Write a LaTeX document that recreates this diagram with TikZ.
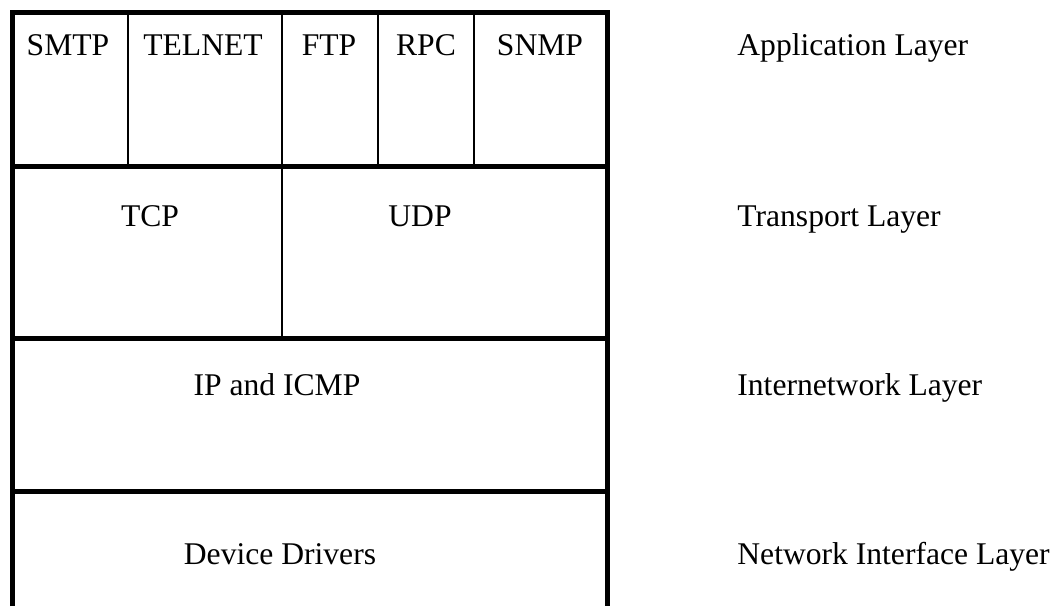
\documentclass[tikz,border=0pt]{standalone}
\usepackage{fontspec}
\setmainfont{Liberation Serif}
\tikzset{
  frame/.style={line width=2.5pt},
  divider/.style={line width=1.3pt},
  proto/.style={anchor=base,inner sep=0pt,font=\fontsize{15.8}{18}\selectfont},
  layername/.style={anchor=base west,inner sep=0pt,font=\fontsize{15.8}{18}\selectfont}
}

\begin{document}
\begin{tikzpicture}[x=0.5pt,y=-0.5pt]
  \useasboundingbox (0,0) rectangle (1058,606);
  \def\L{12.5}
  \def\R{607}
  \def\T{12.5}
  \def\B{606}

  % outer frame, open at the bottom
  \draw[frame] (\L,\B) -- (\L,\T) -- (\R,\T) -- (\R,\B);
  \draw[frame] (\L,166) -- (\R,166);
  \draw[frame] (\L,338) -- (\R,338);
  \draw[frame] (\L,491) -- (\R,491);

  % cells of the application layer
  \foreach \x in {128,282,378,474}
    \draw[divider] (\x,\T) -- (\x,166);
  % TCP | UDP
  \draw[divider] (282,166) -- (282,338);

  \node[proto] (smtp) at (68,55) {SMTP};
  \node[proto] (telnet) at (203,55) {TELNET};
  \node[proto] (ftp) at (329,55) {FTP};
  \node[proto] (rpc) at (426,55) {RPC};
  \node[proto] (snmp) at (540,55) {SNMP};
  \node[proto] (tcp) at (150,226) {TCP};
  \node[proto] (udp) at (420,226) {UDP};
  \node[proto] (ip) at (277,395) {IP and ICMP};
  \node[proto] (drivers) at (280,564) {Device Drivers};

  \node[layername] (app) at (737,55) {Application Layer};
  \node[layername] (trans) at (737,226) {Transport Layer};
  \node[layername] (inet) at (737,395) {Internetwork Layer};
  \node[layername] (netif) at (737,564) {Network Interface Layer};
\end{tikzpicture}
\end{document}
